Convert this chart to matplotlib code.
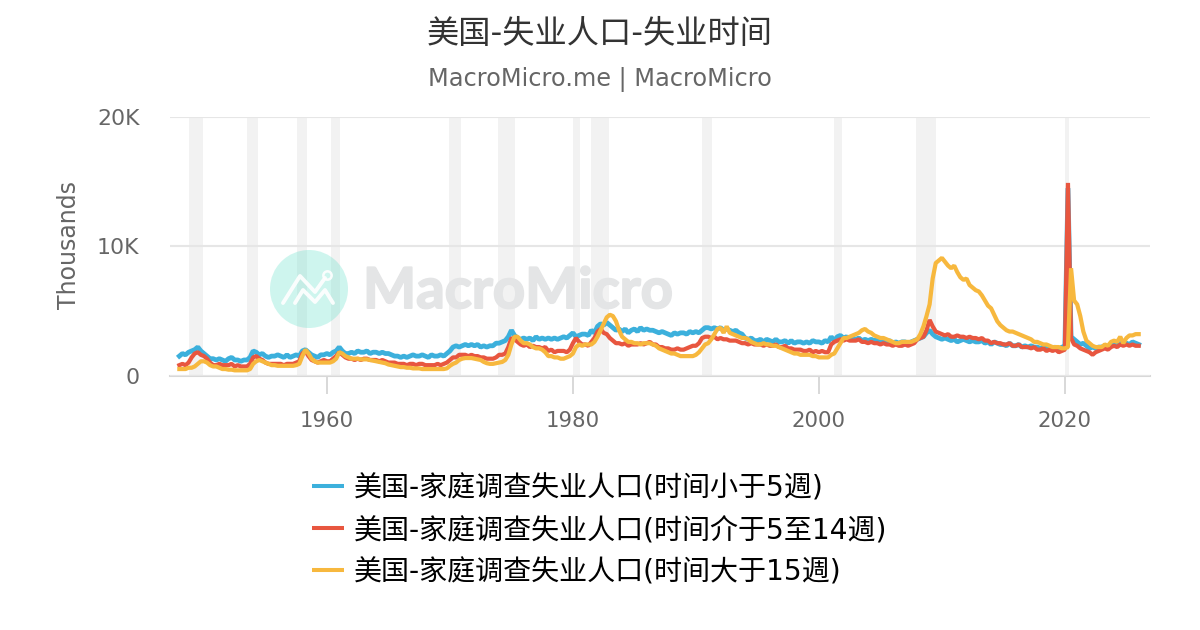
import matplotlib
matplotlib.use("Agg")
import matplotlib.pyplot as plt
import matplotlib.patheffects as path_effects
import matplotlib.transforms as mtransforms
from matplotlib.lines import Line2D
from matplotlib.patches import Circle

plt.rcParams['font.family'] = ['DejaVu Sans', 'Noto Sans CJK SC']

# quarterly values in thousands, one row per year, 1948 onwards
short_term = [
    1.5, 1.7, 1.6, 1.8,  1.9, 2.0, 2.2, 1.9,  1.7, 1.5, 1.3, 1.3,  1.2, 1.3, 1.2, 1.1,
    1.3, 1.4, 1.2, 1.2,  1.1, 1.2, 1.2, 1.4,  1.9, 1.8, 1.6, 1.7,  1.5, 1.4, 1.5, 1.5,
    1.6, 1.5, 1.4, 1.6,  1.4, 1.5, 1.6, 1.5,  1.9, 2.0, 1.8, 1.6,  1.5, 1.4, 1.6, 1.6,
    1.7, 1.6, 1.8, 1.9,  2.2, 1.9, 1.7, 1.7,  1.8, 1.7, 1.9, 1.8,  1.8, 1.9, 1.7, 1.8,
    1.8, 1.7, 1.8, 1.7,  1.7, 1.6, 1.5, 1.5,  1.4, 1.5, 1.4, 1.5,  1.6, 1.5, 1.5, 1.6,
    1.5, 1.4, 1.6, 1.5,  1.5, 1.6, 1.5, 1.7,  1.9, 2.2, 2.3, 2.2,  2.3, 2.4, 2.3, 2.4,
    2.3, 2.4, 2.2, 2.3,  2.2, 2.3, 2.3, 2.5,  2.5, 2.6, 2.7, 3.0,  3.5, 3.1, 2.9, 2.8,
    2.9, 2.8, 2.9, 2.7,  3.0, 2.8, 2.9, 2.8,  2.9, 2.8, 2.9, 2.8,  2.9, 3.0, 2.9, 3.1,
    3.3, 3.0, 3.1, 3.2,  3.2, 3.1, 3.5, 3.3,  3.8, 4.0, 3.9, 4.1,  3.9, 3.7, 3.5, 3.6,
    3.4, 3.6, 3.3, 3.5,  3.6, 3.4, 3.7, 3.5,  3.6, 3.5, 3.5, 3.4,  3.3, 3.4, 3.3, 3.2,
    3.1, 3.3, 3.2, 3.3,  3.3, 3.2, 3.4, 3.3,  3.4, 3.3, 3.5, 3.7,  3.7, 3.6, 3.7, 3.6,
    3.7, 3.5, 3.6, 3.5,  3.4, 3.5, 3.3, 3.2,  2.9, 2.8, 2.9, 2.7,  2.7, 2.8, 2.6, 2.8,
    2.7, 2.6, 2.8, 2.6,  2.6, 2.7, 2.5, 2.7,  2.5, 2.6, 2.6, 2.5,  2.6, 2.5, 2.7, 2.6,
    2.6, 2.5, 2.7, 2.6,  3.0, 2.7, 3.0, 3.1,  2.9, 3.0, 2.8, 2.9,  2.8, 2.9, 2.7, 2.8,
    2.7, 2.8, 2.7, 2.8,  2.6, 2.7, 2.6, 2.7,  2.5, 2.6, 2.5, 2.6,  2.6, 2.5, 2.6, 2.7,
    2.8, 2.9, 3.0, 3.3,  3.5, 3.2, 3.0, 2.9,  2.8, 2.9, 2.8, 2.7,  2.8, 2.6, 2.7, 2.8,
    2.7, 2.6, 2.7, 2.6,  2.6, 2.7, 2.5, 2.6,  2.4, 2.6, 2.5, 2.4,  2.4, 2.3, 2.5, 2.3,
    2.3, 2.4, 2.2, 2.3,  2.2, 2.3, 2.2, 2.2,  2.1, 2.2, 2.1, 2.2,  2.1, 2.2, 2.0, 2.2,
    2.2, 14.5, 3.0, 2.8,  2.6, 2.4, 2.5, 2.3,  2.1, 2.2, 2.1, 2.2,  2.2, 2.3, 2.2, 2.3,
    2.4, 2.3, 2.5, 2.4,  2.5, 2.4, 2.6, 2.5,  2.4,
]
medium_term = [
    0.8, 0.9, 0.8, 1.0,  1.4, 1.7, 1.8, 1.6,  1.5, 1.3, 1.0, 0.8,  0.8, 0.9, 0.8, 0.8,
    0.8, 0.9, 0.7, 0.8,  0.7, 0.7, 0.7, 0.9,  1.4, 1.5, 1.3, 1.2,  1.0, 0.9, 0.9, 0.9,
    0.9, 0.9, 0.8, 0.9,  0.9, 0.9, 1.0, 1.1,  1.7, 1.9, 1.5, 1.2,  1.1, 1.0, 1.1, 1.2,
    1.1, 1.1, 1.3, 1.5,  1.8, 1.6, 1.4, 1.3,  1.3, 1.2, 1.3, 1.2,  1.3, 1.3, 1.2, 1.2,
    1.2, 1.1, 1.2, 1.1,  1.0, 1.0, 1.0, 0.9,  0.9, 0.9, 0.8, 0.9,  0.9, 0.8, 0.9, 0.9,
    0.8, 0.8, 0.8, 0.8,  0.9, 0.8, 0.9, 1.0,  1.2, 1.4, 1.4, 1.6,  1.6, 1.6, 1.5, 1.6,
    1.5, 1.5, 1.4, 1.4,  1.3, 1.3, 1.3, 1.4,  1.6, 1.6, 1.7, 2.2,  2.9, 2.8, 2.6, 2.4,
    2.3, 2.4, 2.2, 2.3,  2.2, 2.2, 2.1, 2.2,  1.9, 2.0, 1.8, 1.9,  1.9, 1.9, 1.8, 2.0,
    2.5, 2.9, 2.6, 2.4,  2.4, 2.3, 2.6, 2.9,  3.4, 3.6, 3.3, 3.2,  2.9, 2.7, 2.5, 2.5,
    2.4, 2.5, 2.3, 2.4,  2.4, 2.4, 2.5, 2.4,  2.5, 2.6, 2.4, 2.4,  2.2, 2.2, 2.1, 2.1,
    2.0, 2.0, 2.1, 2.0,  2.0, 2.1, 2.2, 2.3,  2.3, 2.5, 2.9, 3.0,  3.0, 2.9, 3.0, 2.8,
    2.9, 2.8, 2.8, 2.7,  2.7, 2.7, 2.6, 2.5,  2.5, 2.4, 2.5, 2.4,  2.4, 2.4, 2.3, 2.4,
    2.3, 2.3, 2.4, 2.2,  2.2, 2.3, 2.1, 2.1,  2.0, 2.0, 2.0, 1.9,  1.9, 2.0, 1.8, 1.9,
    1.8, 1.9, 1.8, 1.8,  2.4, 2.6, 2.7, 2.8,  2.7, 2.8, 2.7, 2.7,  2.7, 2.8, 2.6, 2.6,
    2.5, 2.6, 2.5, 2.5,  2.4, 2.5, 2.4, 2.4,  2.3, 2.4, 2.3, 2.3,  2.4, 2.3, 2.4, 2.5,
    2.8, 2.9, 3.0, 3.5,  4.3, 3.8, 3.4, 3.3,  3.2, 3.1, 3.2, 3.0,  3.0, 3.1, 3.0, 3.0,
    2.9, 3.0, 2.9, 2.9,  2.8, 2.9, 2.7, 2.7,  2.5, 2.6, 2.5, 2.5,  2.4, 2.4, 2.5, 2.3,
    2.3, 2.4, 2.2, 2.2,  2.2, 2.1, 2.2, 2.0,  2.0, 2.1, 1.9, 2.0,  1.9, 2.0, 1.8, 1.9,
    2.0, 14.9, 2.9, 2.4,  2.3, 2.1, 2.0, 1.9,  1.8, 1.6, 1.8, 1.9,  2.0, 2.1, 2.0, 2.2,
    2.3, 2.2, 2.4, 2.3,  2.4, 2.3, 2.4, 2.3,  2.3,
]
long_term = [
    0.5, 0.5, 0.5, 0.6,  0.6, 0.7, 0.9, 1.1,  1.1, 1.0, 0.8, 0.7,  0.7, 0.6, 0.5, 0.5,
    0.45, 0.45, 0.4, 0.4,  0.4, 0.4, 0.4, 0.5,  0.9, 1.1, 1.2, 1.1,  1.0, 0.9, 0.8, 0.8,
    0.75, 0.75, 0.75, 0.75,  0.75, 0.75, 0.8, 0.9,  1.5, 2.0, 1.7, 1.3,  1.1, 1.0, 1.0, 1.0,
    1.0, 1.0, 1.1, 1.3,  1.8, 1.7, 1.5, 1.4,  1.3, 1.3, 1.3, 1.25,  1.25, 1.25, 1.2, 1.15,
    1.1, 1.05, 1.0, 0.95,  0.85, 0.8, 0.75, 0.7,  0.65, 0.65, 0.6, 0.6,  0.55, 0.55, 0.55, 0.5,
    0.5, 0.5, 0.5, 0.5,  0.5, 0.5, 0.5, 0.55,  0.75, 0.9, 1.0, 1.2,  1.3, 1.35, 1.35, 1.35,
    1.3, 1.25, 1.2, 1.05,  0.95, 0.9, 0.9, 0.95,  1.0, 1.05, 1.2, 1.6,  2.4, 3.0, 3.0, 2.7,
    2.5, 2.5, 2.4, 2.2,  2.1, 2.1, 2.0, 1.8,  1.5, 1.5, 1.4, 1.4,  1.3, 1.3, 1.4, 1.5,
    1.7, 2.2, 2.4, 2.3,  2.4, 2.4, 2.4, 2.6,  3.0, 3.5, 4.0, 4.5,  4.7, 4.6, 4.2, 3.5,
    3.0, 2.8, 2.6, 2.6,  2.5, 2.5, 2.4, 2.5,  2.5, 2.5, 2.4, 2.3,  2.1, 2.0, 1.9, 1.8,
    1.7, 1.7, 1.6, 1.5,  1.5, 1.5, 1.5, 1.5,  1.6, 1.8, 2.1, 2.4,  2.5, 2.8, 3.2, 3.6,
    3.7, 3.3, 3.8, 3.3,  3.2, 3.1, 3.0, 2.9,  2.9, 2.8, 2.6, 2.5,  2.4, 2.4, 2.5, 2.4,
    2.4, 2.3, 2.3, 2.2,  2.1, 2.0, 1.9, 1.8,  1.7, 1.7, 1.6, 1.6,  1.6, 1.6, 1.5, 1.5,
    1.4, 1.4, 1.4, 1.4,  1.6, 1.7, 2.1, 2.5,  2.9, 2.9, 3.0, 3.1,  3.2, 3.3, 3.5, 3.6,
    3.4, 3.3, 3.1, 3.0,  2.9, 2.9, 2.8, 2.7,  2.6, 2.5, 2.5, 2.6,  2.6, 2.6, 2.6, 2.7,
    2.8, 3.2, 3.8, 4.6,  5.5, 7.5, 8.7, 8.9,  9.1, 8.8, 8.5, 8.3,  8.5, 8.0, 7.6, 7.4,
    7.5, 7.0, 6.8, 6.6,  6.5, 6.2, 5.8, 5.4,  5.2, 4.7, 4.2, 3.9,  3.7, 3.5, 3.4, 3.4,
    3.3, 3.2, 3.1, 3.0,  2.9, 2.8, 2.6, 2.6,  2.5, 2.4, 2.4, 2.3,  2.2, 2.2, 2.2, 2.1,
    2.1, 2.2, 8.3, 5.8,  5.5, 4.6, 3.4, 2.7,  2.5, 2.3, 2.2, 2.2,  2.2, 2.4, 2.3, 2.6,
    2.7, 2.6, 3.0, 2.5,  2.9, 3.1, 3.1, 3.2,  3.2,
]

start_year = 1948
recessions = [
    (1948.8, 1949.9), (1953.5, 1954.4), (1957.6, 1958.4), (1960.3, 1961.1),
    (1969.9, 1970.9), (1973.9, 1975.3), (1980.0, 1980.6), (1981.5, 1982.9),
    (1990.5, 1991.3), (2001.2, 2001.9), (2007.9, 2009.5), (2020.0, 2020.3),
]
x_ticks = [1960, 1980, 2000, 2020]
y_ticks = [0, 10, 20]
y_tick_labels = ['0', '10K', '20K']
series_names = [
    '美国-家庭调查失业人口(时间小于5週)',
    '美国-家庭调查失业人口(时间介于5至14週)',
    '美国-家庭调查失业人口(时间大于15週)',
]
series_colors = ['#3cb0dc', '#e8563f', '#f7b83e']
series_widths = [4.8, 4.2, 4.2]

W, H = 1200, 630
fig = plt.figure(figsize=(W / 100, H / 100), dpi=100, facecolor='white')
ax = fig.add_axes([170 / W, 1 - 375.5 / H, 980 / W, 258.5 / H])

# image pixel coordinates, for the watermark only
px = mtransforms.Affine2D().scale(1, -1).translate(0, H)

for a, b in recessions:
    ax.axvspan(a, b, color='#f2f2f2', lw=0, zorder=1)

# watermark
ax.add_patch(Circle((309, 289), 39, transform=px, facecolor='#5fe0c8', alpha=0.3,
                    lw=0, zorder=1.5, clip_on=False))
ax.plot([283, 300, 315, 325], [303, 276, 292, 278], transform=px, color='white',
        lw=2.8, zorder=1.6, clip_on=False, alpha=0.9, solid_capstyle='round')
ax.plot([295, 303, 315, 325, 333], [303, 290, 302, 290, 303], transform=px, color='white',
        lw=2.8, zorder=1.6, clip_on=False, alpha=0.9, solid_capstyle='round')
ax.plot([327], [275], transform=px, marker='o', ms=6, mfc='none', mec='white', mew=1.8,
        zorder=1.6, clip_on=False, alpha=0.9)
ax.text(363, 308, 'MacroMicro', transform=px, fontsize=40.5, fontweight='bold',
        color='#e4e5e6', va='baseline', ha='left', zorder=1.6, family='Lato',
        path_effects=[path_effects.withStroke(linewidth=1.4, foreground='#e4e5e6')])

years = [start_year + i / 4 for i in range(len(short_term))]
for values, color, width in zip([short_term, medium_term, long_term], series_colors, series_widths):
    ax.plot(years, values, color=color, lw=width * 0.72, zorder=3,
            solid_joinstyle='bevel', clip_on=False)

ax.set_xlim(1947.24, 2026.92)
ax.set_ylim(0, 20)
ax.set_xticks(x_ticks)
ax.set_yticks(y_ticks)
ax.set_yticklabels(y_tick_labels)
ax.tick_params(axis='x', length=13.3, width=1.4, color='#d8d8d8', labelcolor='#666666',
               labelsize=15.3, pad=12.6)
ax.tick_params(axis='y', length=0, labelcolor='#666666', labelsize=15.8, pad=22)
ax.grid(axis='y', color='#e6e6e6', lw=1.5, zorder=2)
ax.set_axisbelow(False)
for name in ['top', 'left', 'right']:
    ax.spines[name].set_visible(False)
ax.spines['bottom'].set_color('#d8d8d8')
ax.spines['bottom'].set_linewidth(1.5)
for gl in ax.get_ygridlines():
    gl.set_zorder(2)

fig.text(69 / W, 1 - 245 / H, 'Thousands', rotation=90, ha='center', va='center',
         fontsize=17, color='#666666')
fig.text(600 / W, 1 - 34 / H, '美国-失业人口-失业时间', ha='center', va='center',
         fontsize=23.2, color='#333333')
fig.text(600 / W, 1 - 80 / H, 'MacroMicro.me | MacroMicro', ha='center', va='center',
         fontsize=17.3, color='#666666')

handles = [Line2D([], [], color=c, lw=2.9, solid_capstyle='butt') for c in series_colors]
fig.legend(handles, series_names, loc='upper left', bbox_to_anchor=(312 / W, 1 - 474 / H),
           borderaxespad=0, borderpad=0, frameon=False, fontsize=20.2, handlelength=1.14,
           handletextpad=0.36, labelspacing=0.5, labelcolor='black')

fig.savefig('out.png', dpi=100)
